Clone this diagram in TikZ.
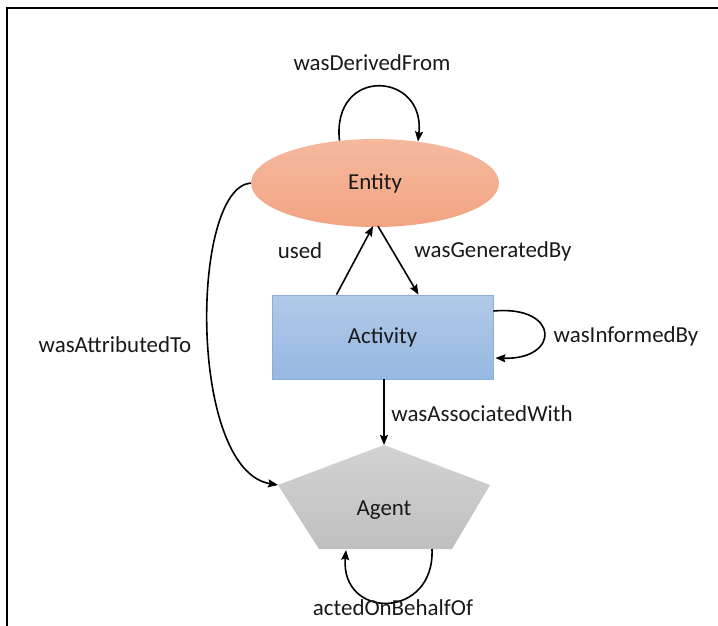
\documentclass[tikz,border=0pt]{standalone}
\usepackage{fontspec}
\setmainfont{Carlito}
\usetikzlibrary{shapes.geometric,arrows.meta,calc}

\definecolor{entTop}{HTML}{F5B99E}
\definecolor{entBot}{HTML}{F2A482}
\definecolor{actTop}{HTML}{B1CAE8}
\definecolor{actBot}{HTML}{96B8E2}
\definecolor{actLine}{HTML}{8DAEDB}
\definecolor{agTop}{HTML}{D3D3D3}
\definecolor{agBot}{HTML}{BFBFBF}

\tikzset{
  lbl/.style={font=\fontsize{23}{27}\selectfont, inner sep=0pt, text=black!90},
  arr/.style={line width=1.6bp, -{Stealth[length=10bp,width=8bp,inset=1.5bp]}},
}

\begin{document}
\begin{tikzpicture}[x=1bp,y=-1bp]
  \useasboundingbox (0,0) rectangle (718,626);
  % outer frame
  \draw[line width=1.8bp] (7,626) -- (7,8) -- (718,8);

  % Entity
  \node[ellipse, minimum width=248bp, minimum height=88bp, inner sep=0pt,
        top color=entTop, bottom color=entBot, draw=none, lbl] (entity) at (375,183) {Entity};

  % Activity
  \node[rectangle, minimum width=221bp, minimum height=84bp, inner sep=0pt,
        top color=actTop, bottom color=actBot, draw=actLine, line width=0.8bp, lbl] (activity) at (382.5,337) {Activity};

  % Agent pentagon
  \coordinate (agtop) at (384,445);
  \coordinate (agleft) at (278,485);
  \coordinate (agright) at (490,485);
  \coordinate (agbr) at (452,549);
  \coordinate (agbl) at (319,549);
  \shade[top color=agTop, bottom color=agBot] (agtop) -- (agright) -- (agbr) -- (agbl) -- (agleft) -- cycle;
  \node[lbl] (agent) at (384,510) {Agent};
  \coordinate (agloopA) at (432,549);
  \coordinate (agloopB) at (346,550);

  % connectors
  \draw[arr] (entity.130) .. controls +(-8,-75) and +(8,-70) .. (entity.44);
  \draw[arr] ([xshift=-46bp]activity.north) -- ([xshift=-2bp,yshift=1bp]entity.south);
  \draw[arr] ([xshift=3bp,yshift=1bp]entity.south) -- ([xshift=36bp]activity.north);
  \draw[arr] ([yshift=26bp]activity.east) .. controls +(67,-6) and +(65,2) .. ([xshift=2bp,yshift=-21bp]activity.east);
  \draw[arr] ([xshift=1.5bp]activity.south) -- (agtop);
  \draw[arr] (entity.west) .. controls (190,188) and (188,470) .. (agleft);
  \draw[arr] (agloopA) .. controls (435,620) and (340,620) .. (agloopB);

  % labels
  \node[lbl] (lDerived) at (372,63) {wasDerivedFrom};
  \node[lbl] (lUsed) at (300,251) {used};
  \node[lbl] (lGenerated) at (493,251) {wasGeneratedBy};
  \node[lbl] (lInformed) at (626,336) {wasInformedBy};
  \node[lbl] (lAssociated) at (482,414) {wasAssociatedWith};
  \node[lbl] (lAttributed) at (115,345) {wasAttributedTo};
  \node[lbl] (lActed) at (393,608) {actedOnBehalfOf};
\end{tikzpicture}
\end{document}
